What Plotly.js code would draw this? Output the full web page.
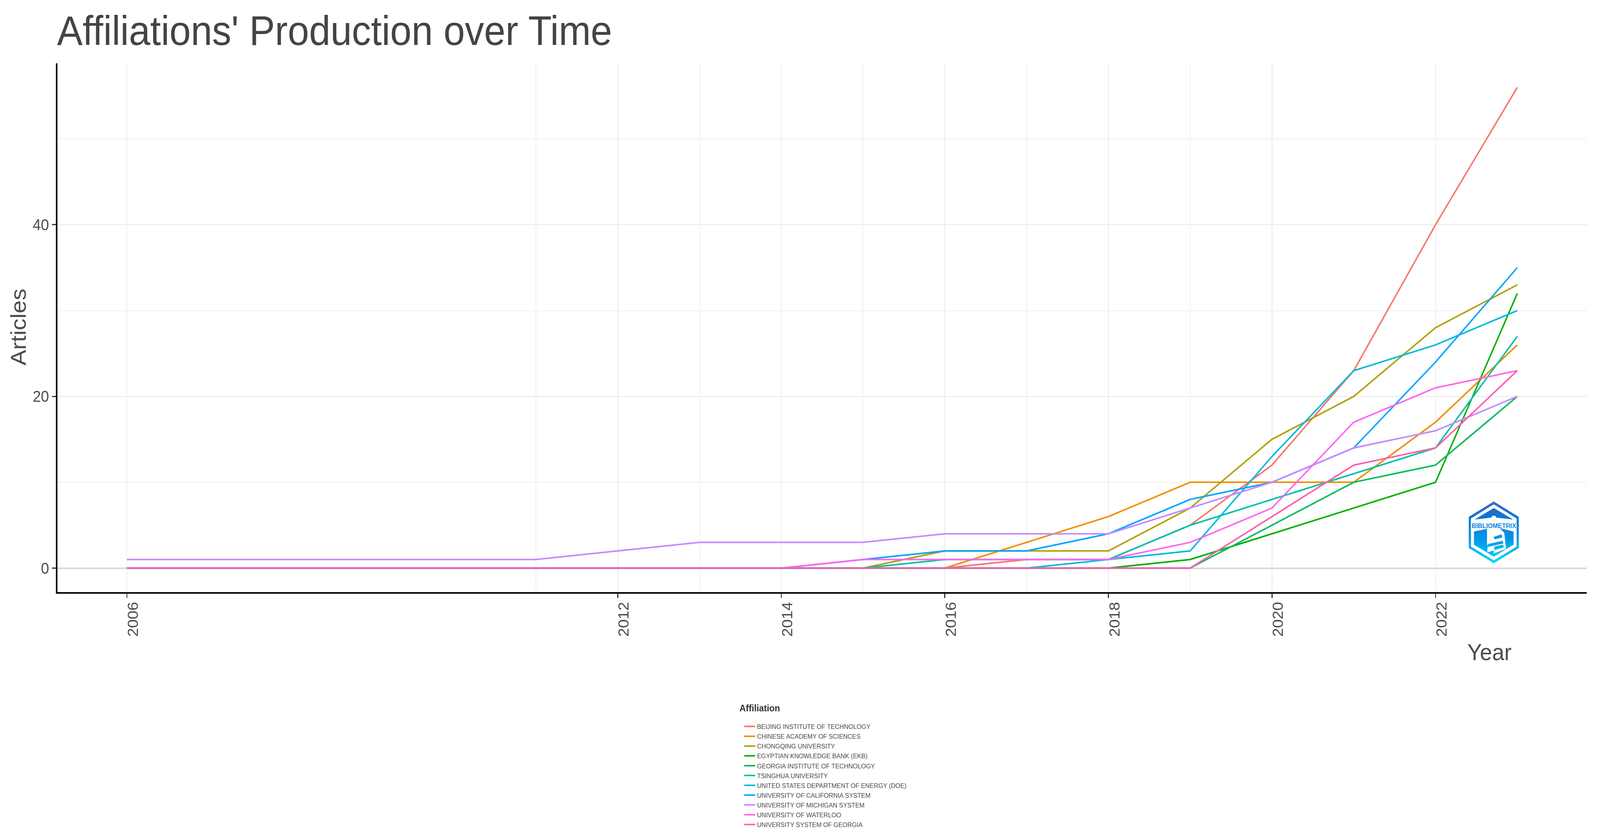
<!DOCTYPE html>
<html>
<head>
<meta charset="utf-8">
<script src="https://cdn.plot.ly/plotly-3.0.1.min.js"></script>
<style>html,body{margin:0;padding:0;background:#fff;overflow:hidden}
#chart{width:4375px;height:2144px;transform-origin:0 0}</style>
</head>
<body>
<div id="chart"></div>
<script>
const years = [2006,2011,2012,2013,2014,2015,2016,2017,2018,2019,2020,2021,2022,2023];
const beijing   = [0,0,0,0,0,0,0,1,1,5,12,23,40,56];
const chinese   = [0,0,0,0,0,0,0,3,6,10,10,10,17,26];
const chongqing = [0,0,0,0,0,0,2,2,2,7,15,20,28,33];
const egyptian  = [0,0,0,0,0,0,0,0,0,1,4,7,10,32];
const georgia   = [0,0,0,0,0,0,0,0,0,0,5,10,12,20];
const tsinghua  = [0,0,0,0,0,0,1,1,1,5,8,11,14,27];
const doe       = [0,0,0,0,0,0,0,0,1,2,13,23,26,30];
const uc        = [0,0,0,0,0,1,2,2,4,8,10,14,24,35];
const michigan  = [1,1,2,3,3,3,4,4,4,7,10,14,16,20];
const waterloo  = [0,0,0,0,0,1,1,1,1,3,7,17,21,23];
const usg       = [0,0,0,0,0,0,0,0,0,0,6,12,14,23];

const names = ["BEIJING INSTITUTE OF TECHNOLOGY","CHINESE ACADEMY OF SCIENCES","CHONGQING UNIVERSITY","EGYPTIAN KNOWLEDGE BANK (EKB)","GEORGIA INSTITUTE OF TECHNOLOGY","TSINGHUA UNIVERSITY","UNITED STATES DEPARTMENT OF ENERGY (DOE)","UNIVERSITY OF CALIFORNIA SYSTEM","UNIVERSITY OF MICHIGAN SYSTEM","UNIVERSITY OF WATERLOO","UNIVERSITY SYSTEM OF GEORGIA"];
const values = [beijing,chinese,chongqing,egyptian,georgia,tsinghua,doe,uc,michigan,waterloo,usg];
const colors = ["#F8766D","#F28E00","#B3A000","#00B000","#00BD5C","#00C1A7","#00BADE","#00A6FF","#C38BFF","#FF66F0","#FF5FAE"];

const xMajor = [2006,2012,2014,2016,2018,2020,2022];
const xMinor = [2011,2013,2015,2017,2019];
const yMajor = [0,20,40];
const yMinor = [10,30,50];

const W = 4375, H = 2144;
const L = 157, R = 4339, T = 162, B = 1515;
const px = x => (x - L) / (R - L);
const py = y => (B - y) / (B - T);
const FONT = "Liberation Sans, Arial, sans-serif";
const GRID = "#EFEFEF";

// The window may be narrower than the reference: fit the full width into it.
document.getElementById("chart").style.transform = "scaleX(" + Math.min(1, window.innerWidth / W) + ")";

const traces = names.map((n,i) => ({
  type: "scatter", mode: "lines", name: n, x: years, y: values[i],
  line: {color: colors[i], width: 4, shape: "linear"}
}));

const logoSvg = `<svg xmlns="http://www.w3.org/2000/svg" viewBox="0 0 411 472" width="411" height="472">
<defs><linearGradient id="g" gradientUnits="userSpaceOnUse" x1="0" y1="0" x2="0" y2="472">
<stop offset="0" stop-color="#4A62C0"/><stop offset="0.25" stop-color="#0A76D2"/><stop offset="0.62" stop-color="#0098E8"/><stop offset="1" stop-color="#00DCFF"/></linearGradient></defs>
<path fill="url(#g)" d="M206 0L411 118V355L206 472L0 355V118Z"/>
<path fill="#fff" d="M206 22L393 130V345L206 450L18 345V130Z"/>
<path fill="url(#g)" d="M206 50L365 138L240 125H172L48 138Z"/>
<path fill="url(#g)" d="M43 230L150 208V330H260V205L368 230V330L206 422L43 330Z"/>
<path fill="#fff" d="M206 108C190 108 182 122 182 134L172 150V205L148 222L160 238V280L152 388L205 375V398L306 362L292 240L255 205L240 150L230 134C230 122 222 108 206 108Z"/>
<path fill="url(#g)" d="M205 270L270 252L276 275L212 290ZM160 325L280 300L284 322L155 348ZM210 345L282 330L288 350L210 372Z"/>
</svg>`;

const layout = {
  width: W, height: H, autosize: false,
  paper_bgcolor: "#fff", plot_bgcolor: "#fff",
  margin: {l: L, r: W - R, t: T, b: H - B, pad: 0},
  font: {family: FONT, color: "#4D4D4D"},
  title: {text: "Affiliations' Production over Time", xref: "container", yref: "container", x: 156/W, xanchor: "left", y: 1 - 115/H, yanchor: "bottom", pad: {l:0,r:0,t:0,b:0}, font: {family: FONT, size: 105, color: "#444444"}},
  xaxis: {
    range: [2005.15, 2023.85], tickmode: "array", tickvals: xMajor, ticktext: xMajor.map(String),
    tickangle: -90, ticks: "outside", ticklen: 11, tickwidth: 3, tickcolor: "#333333",
    tickfont: {family: FONT, size: 40, color: "#4D4D4D"}, ticklabelshift: 17, ticklabelstandoff: -6,
    showline: true, linecolor: "#000", linewidth: 4, zeroline: false,
    showgrid: true, gridcolor: GRID, gridwidth: 3,
    minor: {tickmode: "array", tickvals: xMinor, showgrid: true, gridcolor: GRID, gridwidth: 2, ticks: ""}
  },
  yaxis: {
    range: [-2.8, 58.8], tickmode: "array", tickvals: yMajor, ticktext: yMajor.map(String),
    ticks: "outside", ticklen: 11, tickwidth: 3, tickcolor: "#333333",
    tickfont: {family: FONT, size: 40, color: "#4D4D4D"},
    showline: true, linecolor: "#000", linewidth: 4,
    zeroline: true, zerolinecolor: "#D9D9D9", zerolinewidth: 4,
    showgrid: true, gridcolor: GRID, gridwidth: 3,
    minor: {tickmode: "array", tickvals: yMinor, showgrid: true, gridcolor: GRID, gridwidth: 2, ticks: ""}
  },
  showlegend: true,
  legend: {
    x: px(2030), y: py(1841), xanchor: "left", yanchor: "top",
    bgcolor: "rgba(0,0,0,0)", borderwidth: 0, itemwidth: 30, traceorder: "normal",
    font: {family: FONT, size: 17, color: "#4D4D4D"}
  },
  annotations: [
    {xref: "paper", yref: "paper", x: px(50), y: py(837), xanchor: "center", yanchor: "middle", textangle: -90, showarrow: false, text: "Articles", font: {family: FONT, size: 60, color: "#4D4D4D"}},
    {xref: "paper", yref: "paper", x: px(4010), y: py(1668), xanchor: "left", yanchor: "middle", showarrow: false, text: "Year", font: {family: FONT, size: 60, color: "#4D4D4D"}},
    {xref: "paper", yref: "paper", x: px(2020), y: py(1811), xanchor: "left", yanchor: "middle", showarrow: false, text: "<b>Affiliation</b>", font: {family: FONT, size: 24, color: "#333333"}},
    {xref: "paper", yref: "paper", x: px(4084.5), y: py(1345), xanchor: "center", yanchor: "middle", showarrow: false, text: "<b>BIBLIOMETRIX</b>", font: {family: FONT, size: 17, color: "#0B84DF"}}
  ],
  images: [{
    source: "data:image/svg+xml;base64," + btoa(logoSvg),
    xref: "paper", yref: "paper", x: px(4016), y: py(1283),
    sizex: 137/(R-L), sizey: 158/(B-T), xanchor: "left", yanchor: "top",
    sizing: "stretch", layer: "above"
  }]
};

Plotly.newPlot("chart", traces, layout, {displayModeBar: false, responsive: false});
</script>
</body>
</html>
